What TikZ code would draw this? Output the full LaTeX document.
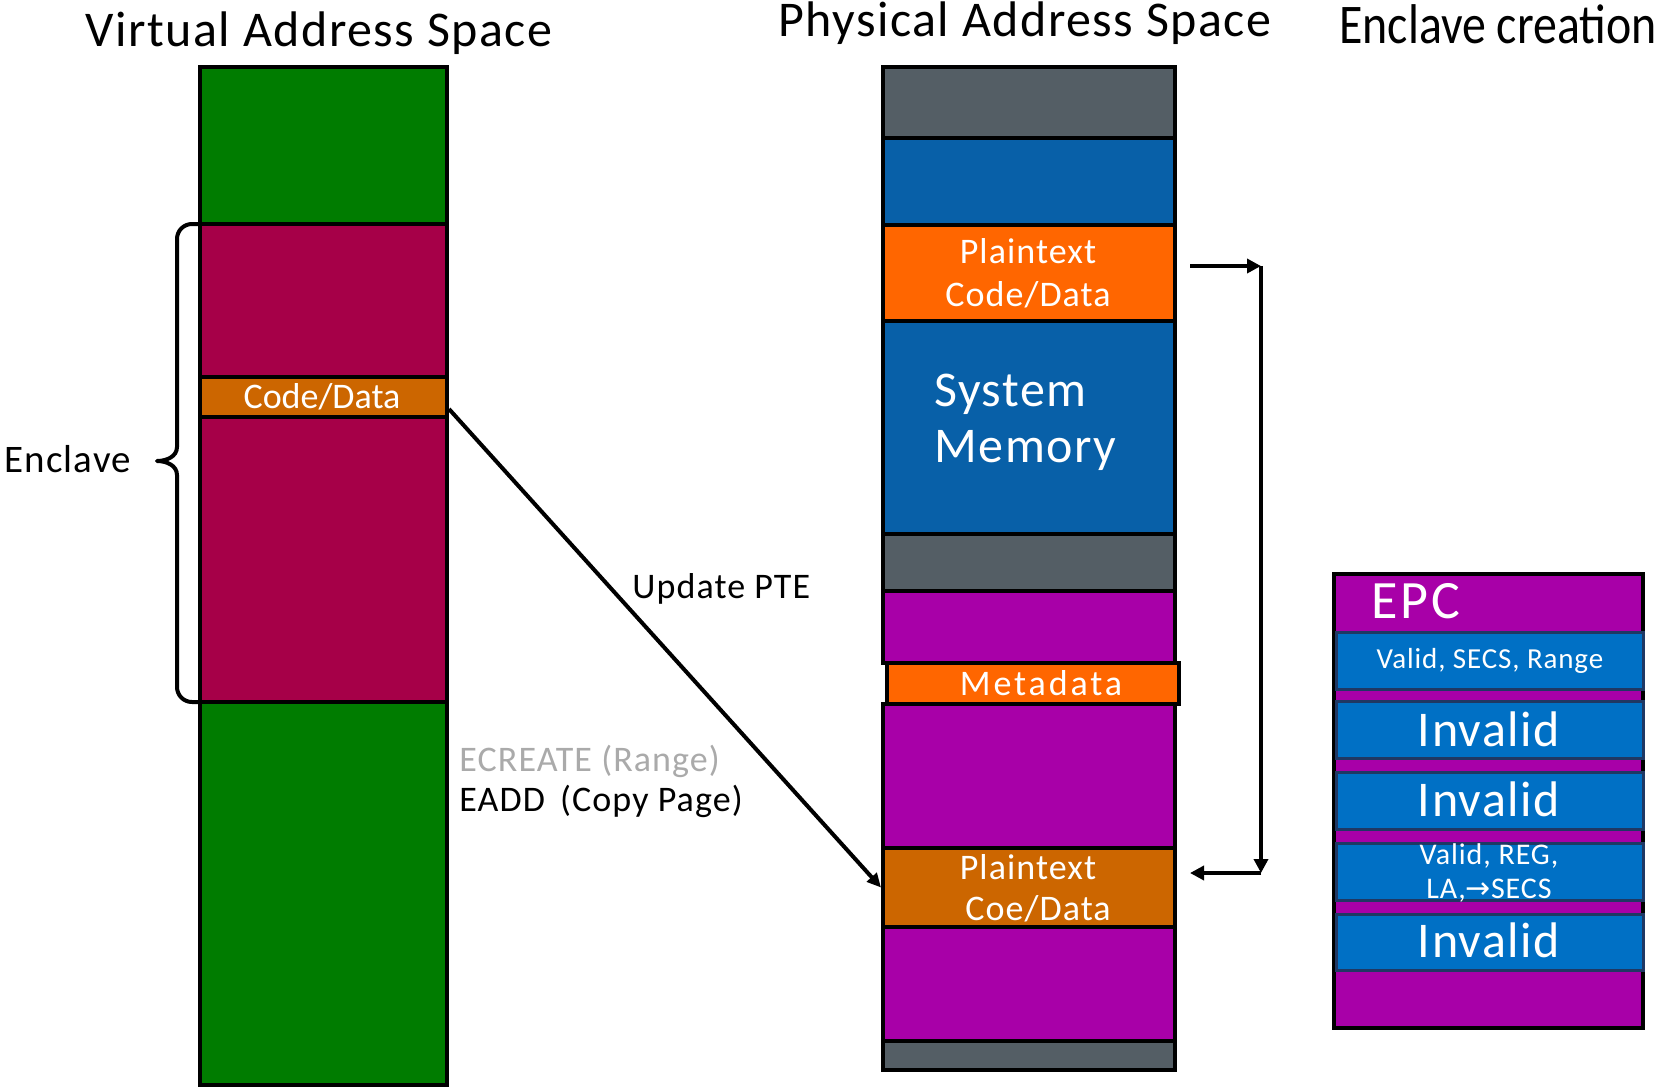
\documentclass[tikz,border=0pt]{standalone}
\usepackage{fontspec}
\setmainfont{Carlito}
\newfontfamily\spacedA[LetterSpace=3]{Carlito}
\newfontfamily\spacedB[LetterSpace=8]{Carlito}
\newfontfamily\spacedC[LetterSpace=5]{Carlito}
\newfontfamily\arrowfont{DejaVu Sans}
\usetikzlibrary{fit,arrows.meta}
\newcommand{\myfs}[1]{\fontsize{#1}{1.2\dimexpr#1\relax}\selectfont}
\definecolor{vgreen}{RGB}{0,124,0}
\definecolor{maroon}{RGB}{166,0,72}
\definecolor{cdorange}{RGB}{204,102,0}
\definecolor{pgray}{RGB}{84,94,101}
\definecolor{sblue}{RGB}{8,96,168}
\definecolor{porange}{RGB}{255,102,0}
\definecolor{ppurple}{RGB}{168,0,168}
\definecolor{epcblue}{RGB}{0,112,197}
\definecolor{epcborder}{RGB}{31,56,100}
\definecolor{ecgray}{RGB}{170,170,170}
\begin{document}
\begin{tikzpicture}[x=0.5pt,y=-0.5pt,
  band/.style={draw=black, line width=2pt, inner sep=0pt},
  epcrow/.style={draw=epcborder, line width=1.5pt, inner sep=0pt, fill=epcblue},
  wtxt/.style={text=white, inner sep=0pt, anchor=base},
  btxt/.style={text=black, inner sep=0pt, anchor=base},
  ptearrow/.style={line width=2pt, -{Triangle[length=7pt,width=6.5pt]}},
  brarrow/.style={line width=2.2pt, -{Triangle[length=7pt,width=7pt]}},
  bracestyle/.style={line width=2pt, line join=round}]
\useasboundingbox (0,0) rectangle (1666,1088);

% ---------- titles ----------
\node[btxt] (t1) at (319,46) {\spacedA\myfs{25pt}Virtual Address Space};
\node[btxt] (t2) at (1025,36) {\spacedA\myfs{25pt}Physical Address Space};
\node[btxt] (t3) at (1498,43) {\scalebox{0.855}[1]{\myfs{28pt}Enclave creation}};

% ---------- virtual column ----------
\node[band, fill=vgreen, fit={(200,67)(447,224)}] (vg1) {};
\node[band, fill=maroon, fit={(200,224)(447,377)}] (vm1) {};
\node[band, fill=cdorange, fit={(200,377)(447,417)}] (vcd) {};
\node[band, fill=maroon, fit={(200,417)(447,702)}] (vm2) {};
\node[band, fill=vgreen, fit={(200,702)(447,1085)}] (vg2) {};
\node[wtxt] (vcdt) at (322,408) {\myfs{18pt}Code/Data};

% brace
\draw[bracestyle] (200,224) -- (192,224) to[out=180,in=90] (177,239) -- (177,447)
  to[out=-90,in=0] (157,461) to[out=0,in=90] (177,475) -- (177,687)
  to[out=-90,in=180] (192,702) -- (200,702);
\node[btxt, anchor=base west] (encl) at (4,472) {\spacedA\myfs{19.5pt}Enclave};

% ---------- physical column ----------
\node[band, fill=pgray, fit={(883,67)(1175,138)}] (pg1) {};
\node[band, fill=sblue, fit={(883,138)(1175,225)}] (pb1) {};
\node[band, fill=porange, fit={(883,225)(1175,321)}] (ppt) {};
\node[band, fill=sblue, fit={(883,321)(1175,534)}] (psm) {};
\node[band, fill=pgray, fit={(883,534)(1175,591)}] (pg2) {};
\node[band, fill=ppurple, fit={(883,591)(1175,663)}] (pp1) {};
\node[band, fill=ppurple, fit={(883,704)(1175,848)}] (pp2) {};
\node[band, fill=cdorange, fit={(883,848)(1175,927)}] (pcd) {};
\node[band, fill=ppurple, fit={(883,927)(1175,1041)}] (pp3) {};
\node[band, fill=pgray, fit={(883,1041)(1175,1070)}] (pg3) {};
\node[band, fill=porange, fit={(887,663)(1179,704)}] (pmeta) {};

\node[wtxt] (pptt1) at (1028,263) {\spacedA\myfs{18pt}Plaintext};
\node[wtxt] (pptt2) at (1028,306) {\spacedA\myfs{18pt}Code/Data};
\node[wtxt, anchor=base west] (psmt1) at (934,406) {\spacedA\myfs{25pt}System};
\node[wtxt, anchor=base west] (psmt2) at (934,462) {\spacedA\myfs{25pt}Memory};
\node[wtxt] (pmetat) at (1041,695) {\spacedB\myfs{18pt}Metadata};
\node[wtxt] (pcdt1) at (1028,879) {\spacedA\myfs{18pt}Plaintext};
\node[wtxt] (pcdt2) at (1038,920) {\spacedA\myfs{18pt}Coe/Data};

% ---------- labels ----------
\node[btxt, anchor=base west] (upte) at (632,598) {\spacedA\myfs{18pt}Update PTE};
\node[btxt, anchor=base west, text=ecgray] (ecr) at (459,771) {\spacedA\myfs{18pt}ECREATE (Range)};
\node[btxt, anchor=base west] (eadd) at (459,811) {\spacedA\myfs{18pt}EADD\ \,(Copy Page)};

% ---------- connectors ----------
\draw[ptearrow] ([yshift=-6pt]vcd.east) -- (pcd.west);

\coordinate (ba) at (1190,266);
\coordinate (bb) at (1261,266);
\coordinate (bc) at (1261,873);
\coordinate (bd) at (1190,873);
\draw[brarrow] (ba) -- (bb);
\draw[brarrow] (bb) -- (bc);
\draw[brarrow] (bc) -- (bd);

% ---------- EPC panel ----------
\node[draw=black, line width=2pt, fill=ppurple, inner sep=0pt, fit={(1334,574)(1643,1028)}] (epc) {};
\node[epcrow, fit={(1336,632)(1643,689)}] (e1) {};
\node[epcrow, fit={(1336,701)(1643,758)}] (e2) {};
\node[epcrow, fit={(1336,772)(1643,829)}] (e3) {};
\node[epcrow, fit={(1336,843)(1643,900)}] (e4) {};
\node[epcrow, fit={(1336,914)(1643,970)}] (e5) {};

\node[wtxt, anchor=base west] (epct) at (1371,618) {\spacedC\myfs{27pt}EPC};
\node[wtxt] (e1t) at (1490,668) {\spacedA\myfs{14.5pt}Valid, SECS, Range};
\node[wtxt] (e2t) at (1489,746) {\spacedA\myfs{25pt}Invalid};
\node[wtxt] (e3t) at (1489,816) {\spacedA\myfs{25pt}Invalid};
\node[wtxt] (e4t1) at (1489,864) {\spacedA\myfs{15pt}Valid, REG,};
\node[wtxt] (e4t2) at (1489,898) {\spacedA\myfs{15pt}LA,{\arrowfont →}SECS};
\node[wtxt] (e5t) at (1489,957) {\spacedA\myfs{25pt}Invalid};
\end{tikzpicture}
\end{document}
